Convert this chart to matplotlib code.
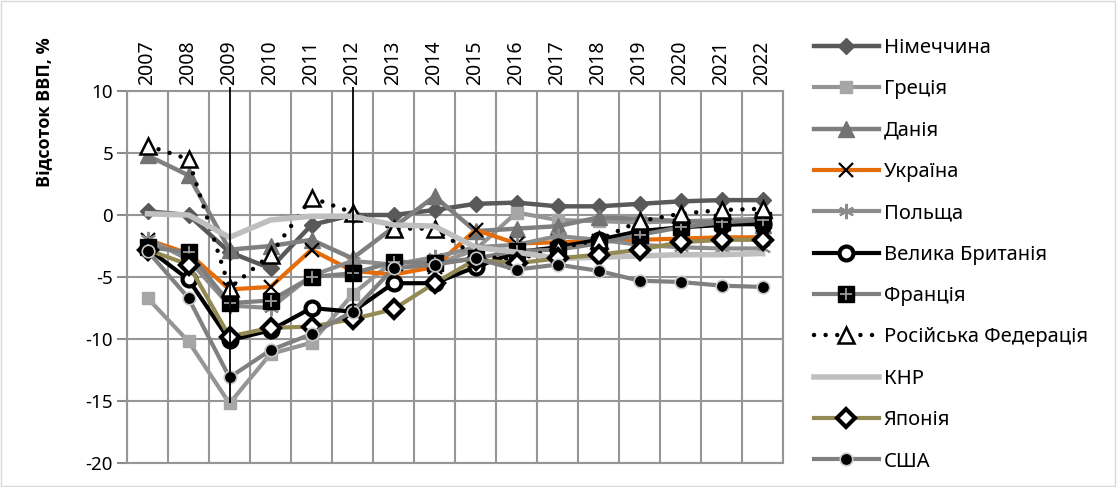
import numpy as np
import matplotlib
matplotlib.use("Agg")
import matplotlib.pyplot as plt
from matplotlib.ticker import FixedLocator
from matplotlib.legend_handler import HandlerTuple
from matplotlib.patches import Rectangle

plt.rcParams['font.family'] = ['Noto Sans', 'DejaVu Sans']
plt.rcParams['axes.unicode_minus'] = False

years = [str(y) for y in range(2007, 2023)]

germany = [0.3, 0.0, -3.0, -4.3, -0.8, 0.0, 0.0, 0.4, 0.9, 1.0, 0.7, 0.7, 0.9, 1.1, 1.2, 1.2]
greece = [-6.7, -10.2, -15.2, -11.2, -10.3, -6.4, -3.7, -4.0, -2.8, 0.2, -0.4, -0.5, -0.6, -0.5, -0.4, -0.3]
denmark = [4.8, 3.2, -2.8, -2.5, -2.0, -3.5, -1.0, 1.5, -1.3, -1.1, -0.9, -0.2, -0.3, -0.5, -0.6, -0.8]
ukraine = [-2.0, -3.1, -6.0, -5.8, -2.8, -4.5, -4.8, -4.2, -1.2, -2.3, -2.2, -2.1, -2.0, -1.9, -1.8, -1.8]
poland = [-1.9, -3.6, -7.3, -7.5, -4.9, -3.7, -4.0, -3.4, -2.6, -2.4, -1.7, -2.0, -2.4, -2.6, -2.7, -2.7]
uk = [-2.7, -5.2, -10.1, -9.3, -7.5, -7.8, -5.5, -5.5, -4.2, -3.0, -2.6, -2.0, -1.3, -1.0, -0.8, -0.7]
france = [-2.6, -3.0, -7.1, -6.9, -5.0, -4.7, -3.8, -3.9, -3.5, -2.9, -2.8, -2.3, -1.6, -1.0, -0.6, -0.4]
russia = [5.6, 4.5, -5.9, -3.2, 1.4, 0.2, -1.1, -1.1, -3.3, -3.6, -2.7, -2.0, -0.5, 0.1, 0.4, 0.5]
china = [0.1, 0.0, -1.8, -0.4, -0.1, -0.1, -0.8, -0.9, -2.6, -3.0, -3.5, -3.4, -3.3, -3.2, -3.2, -3.1]
japan = [-2.8, -4.0, -9.8, -9.1, -9.0, -8.4, -7.6, -5.5, -3.6, -3.9, -3.5, -3.2, -2.8, -2.2, -2.0, -2.0]
usa = [-2.9, -6.7, -13.1, -10.9, -9.6, -7.8, -4.3, -4.0, -3.5, -4.4, -4.0, -4.5, -5.3, -5.4, -5.7, -5.8]

line_years = ['2009', '2012']
line_top = [10.3, 10.3]
line_bottom = [-15.2, -7.8]

fig = plt.figure(figsize=(11.17, 4.87), dpi=100)
ax = fig.add_axes([127 / 1117, 1 - 463 / 487, 656 / 1117, 372 / 487])

ax.plot(years, germany, color='#595959', lw=3.2, marker='D', ms=8, mfc='#595959', mec='#595959',
        label='Німеччина')
ax.plot(years, greece, color='#959595', lw=3.0, marker='s', ms=9, mfc='#a6a6a6', mec='#a6a6a6',
        label='Греція')
ax.plot(years, denmark, color='#7f7f7f', lw=3.2, marker='^', ms=11, mfc='#737373', mec='#737373',
        label='Данія')
ax.plot(years, ukraine, color='#e46c0a', lw=3.0, marker='x', ms=10, mec='black', mew=1.6,
        label='Україна')
ax.plot(years, poland, color='#8c8c8c', lw=3.0, marker=(6, 2, 0), ms=11, mec='#8c8c8c', mew=1.5,
        label='Польща')
ax.plot(years, uk, color='black', lw=3.0, marker='o', ms=10, mfc='white', mec='black', mew=3,
        label='Велика Британія')
fr_line, = ax.plot(years, france, color='#7f7f7f', lw=3.0, marker='s', ms=11, mfc='black', mec='black')
fr_plus, = ax.plot(years, france, ls='none', marker='+', ms=9, mec='#9a9a9a', mew=1.3)
ax.plot(years, russia, color='black', lw=3.2, ls=(0, (0.01, 2.6)), dash_capstyle='round',
        marker='^', ms=11, mfc='white', mec='black', mew=1.8, label='Російська Федерація')
ax.plot(years, china, color='#bfbfbf', lw=4.0, label='КНР')
ax.plot(years, japan, color='#948a54', lw=3.0, marker='D', ms=9, mfc='white', mec='black', mew=3,
        label='Японія')
ax.plot(years, usa, color='#808080', lw=3.0, marker='o', ms=9, mfc='black', mec='#c8c8c8', mew=1.2,
        label='США')

ax.vlines(line_years, line_bottom, line_top, colors='black', lw=1.3, clip_on=False, zorder=5)

ax.set_xlim(-0.5, len(years) - 0.5)
ax.set_ylim(-20, 10)
ax.set_yticks(range(-20, 11, 5))
ax.xaxis.tick_top()
ax.xaxis.set_minor_locator(FixedLocator(np.arange(-0.5, len(years), 1)))
ax.tick_params(axis='x', which='both', length=0, labelrotation=90, pad=4, labelsize=14)
ax.tick_params(axis='y', length=7, width=1.5, color='#8c8c8c', labelsize=13.5, pad=3)
ax.grid(axis='y', which='major', color='#969696', lw=1.5)
ax.grid(axis='x', which='minor', color='#969696', lw=1.5)
ax.set_axisbelow(True)
for s in ax.spines.values():
    s.set_color('#969696')
    s.set_linewidth(1.5)

fig.text(45 / 1117, 1 - 112 / 487, 'Відсоток ВВП, %', rotation=90, ha='center', va='center',
         fontsize=13, fontweight='bold', family=['Open Sans', 'DejaVu Sans'])

handles, labels = ax.get_legend_handles_labels()
handles.insert(6, (fr_line, fr_plus))
labels.insert(6, 'Франція')
ax.legend(handles, labels, loc='upper left', bbox_to_anchor=(806 / 1117, 1 - 30 / 487),
          bbox_transform=fig.transFigure, frameon=False, fontsize=14.5, handlelength=3.2,
          handletextpad=0.25, labelspacing=1.06, borderaxespad=0,
          handler_map={tuple: HandlerTuple(ndivide=1, pad=0)})

fig.patches.append(Rectangle((0.001, 0.002), 0.997, 0.996, transform=fig.transFigure,
                             fill=False, edgecolor='#d9d9d9', lw=1))

fig.savefig('out.png', dpi=100)
